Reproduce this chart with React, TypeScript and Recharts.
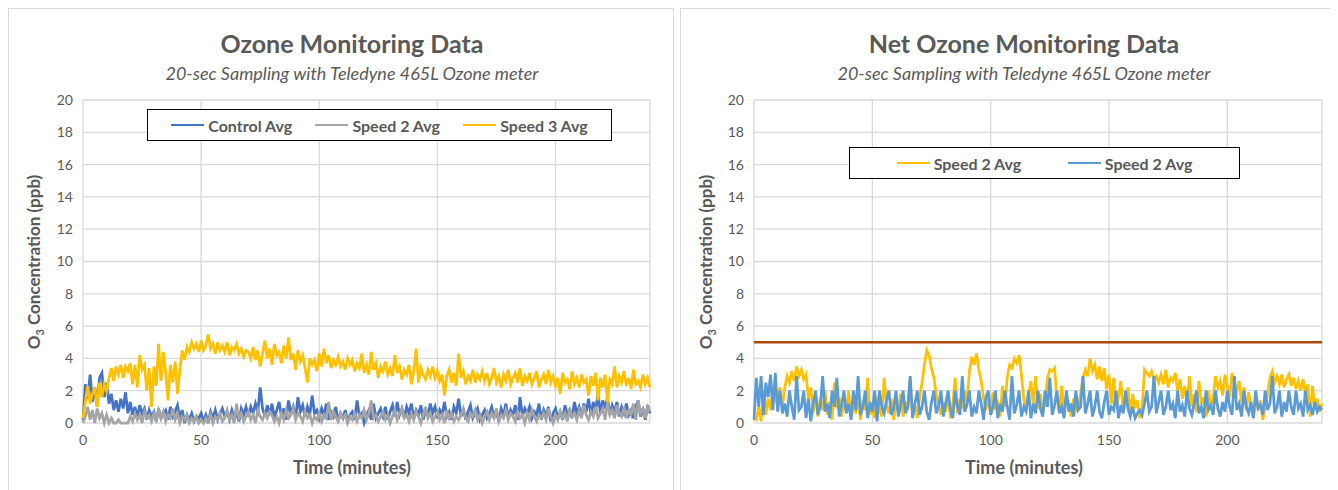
import React from 'react';
import { LineChart, Line, XAxis, YAxis, CartesianGrid, Legend, ReferenceLine } from 'recharts';

const FONT = 'Lato, "Noto Sans", sans-serif';
const TEXT = '#595959';
const GRID = '#d9d9d9';

const timeTicks = [0, 50, 100, 150, 200];
const concTicks = [0, 2, 4, 6, 8, 10, 12, 14, 16, 18, 20];
const LIMIT = 5;

// one reading per minute
const controlAvg = [
  0.2, 2.4, 1.5, 3.0, 1.3, 2.2, 1.0, 2.8, 3.1, 1.6,
  2.5, 1.2, 1.8, 0.8, 1.4, 0.7, 1.5, 0.9, 1.9, 0.6,
  1.3, 0.5, 1.0, 0.3, 1.1, 0.6, 0.9, 0.2, 0.8, 0.4,
  0.7, 0.1, 0.9, 0.3, 0.6, 0.8, 0.2, 1.0, 0.4, 0.7,
  1.1, 0.3, 0.8, 0.0, 0.5, 0.2, 0.6, 0.1, 0.4, 0.3,
  0.6, 0.1, 0.5, 0.0, 0.7, 0.3, 0.8, 0.2, 0.6, 0.9,
  0.4, 0.7, 0.2, 0.8, 0.3, 0.6, 0.1, 0.9, 0.5, 1.0,
  0.4, 1.0, 0.6, 1.2, 0.7, 2.2, 0.9, 0.4, 1.1, 0.5,
  1.2, 0.3, 0.8, 1.3, 0.4, 0.9, 0.2, 1.4, 0.6, 1.0,
  0.3, 1.6, 0.7, 1.1, 0.4, 1.0, 0.5, 1.7, 0.6, 0.8,
  0.3, 0.9, 0.5, 1.2, 0.2, 0.7, 0.4, 1.0, 0.1, 0.6,
  0.3, 0.8, 0.1, 0.5, 0.7, 0.2, 1.4, 0.4, 0.6, 0.0,
  0.5, 0.8, 0.2, 1.2, 0.3, 0.6, 0.9, 0.4, 1.0, 0.2,
  0.7, 1.1, 0.4, 1.3, 0.5, 0.9, 0.3, 1.0, 0.6, 1.2,
  0.3, 0.8, 0.5, 1.1, 0.2, 0.9, 0.4, 1.2, 0.6, 1.0,
  0.3, 0.8, 0.5, 1.3, 0.4, 0.7, 0.2, 1.0, 0.6, 1.5,
  0.4, 0.9, 0.2, 0.7, 1.1, 0.3, 0.6, 0.9, 0.2, 0.5,
  0.8, 0.3, 0.6, 1.0, 0.4, 0.7, 0.1, 0.9, 0.5, 1.2,
  0.3, 0.8, 0.5, 1.1, 0.2, 1.6, 0.4, 0.9, 0.6, 1.0,
  0.3, 0.7, 0.5, 1.2, 0.2, 0.8, 0.4, 1.0, 0.1, 0.6,
  0.9, 0.3, 0.7, 0.2, 1.1, 0.5, 0.8, 0.3, 1.3, 0.6,
  1.0, 0.4, 1.2, 0.7, 1.5, 0.5, 1.3, 0.8, 1.8, 0.6,
  1.4, 0.9, 1.6, 0.5, 1.1, 0.7, 1.3, 0.4, 1.0, 0.6,
  1.2, 0.5, 0.8, 0.3, 1.0, 1.4, 0.4, 0.9, 0.2, 1.1,
  0.6,
];

const speed2Avg = [
  0.0, 0.4, 1.0, 0.2, 0.8, 0.0, 0.9, 0.3, 0.6, 0.0,
  0.5, 0.0, 0.3, 0.0, 0.0, 0.2, 0.0, 0.0, 0.0, 0.0,
  0.4, 0.1, 0.6, 0.2, 0.5, 0.0, 0.7, 0.3, 0.5, 0.1,
  0.6, 0.2, 0.8, 0.3, 0.7, 0.1, 0.5, 0.3, 0.9, 0.2,
  0.6, 0.0, 0.4, 0.2, 0.5, 0.0, 0.3, 0.1, 0.4, 0.0,
  0.2, 0.0, 0.3, 0.1, 0.5, 0.0, 0.4, 0.2, 0.6, 0.1,
  0.3, 0.8, 0.2, 0.5, 0.0, 1.2, 0.3, 0.6, 0.1, 0.4,
  0.7, 0.2, 0.5, 0.0, 0.8, 0.4, 0.2, 0.6, 0.3, 0.7,
  0.5, 0.1, 0.4, 0.0, 0.6, 0.2, 0.8, 0.3, 0.5, 0.9,
  0.2, 0.6, 0.4, 0.1, 0.7, 0.3, 0.5, 0.0, 0.4, 0.2,
  0.6, 0.1, 0.5, 0.3, 1.3, 0.2, 0.7, 0.4, 0.1, 0.6,
  0.3, 0.5, 0.0, 0.4, 0.2, 0.6, 0.1, 0.5, 0.3, 0.8,
  0.2, 0.6, 1.4, 0.3, 0.5, 0.1, 0.4, 0.7, 0.2, 0.5,
  0.0, 0.4, 0.8, 0.2, 0.6, 0.9, 0.3, 0.5, 0.1, 0.6,
  0.2, 0.7, 0.4, 0.0, 0.5, 1.0, 0.3, 0.6, 0.1, 0.4,
  0.7, 0.2, 0.5, 0.0, 0.8, 0.3, 0.6, 0.1, 0.4, 0.2,
  0.5, 0.9, 0.3, 0.1, 0.6, 0.4, 0.8, 0.2, 0.5, 0.0,
  0.4, 0.7, 0.2, 0.6, 0.3, 0.9, 0.1, 0.5, 0.3, 0.8,
  0.2, 0.6, 0.4, 0.1, 0.7, 0.3, 0.5, 0.0, 0.6, 0.2,
  0.8, 0.4, 0.1, 0.5, 0.3, 0.6, 0.2, 0.9, 0.4, 0.0,
  0.5, 0.2, 0.7, 0.3, 0.6, 0.1, 0.9, 0.4, 0.6, 0.2,
  0.8, 0.3, 1.1, 0.5, 0.2, 0.7, 0.4, 1.0, 0.3, 0.6,
  0.9, 0.2, 1.3, 0.5, 0.8, 0.3, 1.1, 0.6, 0.4, 1.0,
  0.3, 0.8, 0.5, 1.2, 0.2, 1.4, 0.6, 0.9, 0.3, 1.0,
  0.7,
];

const speed3Avg = [
  0.3, 1.3, 2.3, 1.2, 1.8, 2.2, 1.0, 2.5, 1.6, 2.4,
  2.0, 2.8, 3.4, 2.6, 3.5, 3.0, 3.6, 2.8, 3.5, 3.2,
  3.7, 2.4, 3.6, 2.2, 4.2, 3.3, 3.6, 2.0, 3.4, 1.0,
  3.5, 2.3, 4.9, 2.6, 4.4, 3.1, 1.4, 3.6, 2.5, 3.8,
  1.8, 3.3, 4.5, 3.9, 4.7, 4.4, 5.0, 4.6, 4.9, 4.4,
  5.1, 4.5, 4.8, 5.5, 4.6, 4.9, 4.3, 5.0, 4.5, 4.8,
  4.4, 5.0, 4.2, 4.7, 4.5, 4.9, 4.3, 4.6, 4.1, 4.5,
  4.4, 4.0, 4.7, 3.9, 4.5, 3.5, 4.3, 5.1, 4.0, 4.6,
  3.6, 4.9, 4.2, 4.4, 3.7, 4.8, 4.0, 5.3, 3.9, 4.3,
  3.3, 4.5, 3.8, 4.2, 3.4, 2.5, 4.0, 3.6, 3.9, 3.2,
  4.3, 3.5, 4.6, 3.7, 4.2, 3.4, 3.9, 3.6, 4.1, 3.5,
  3.8, 3.3, 4.0, 3.6, 3.9, 3.2, 3.7, 3.4, 4.3, 3.1,
  3.6, 3.0, 4.4, 3.3, 3.7, 2.8, 3.5, 3.2, 3.8, 3.0,
  3.4, 2.9, 4.2, 3.1, 3.5, 2.7, 3.3, 3.0, 3.6, 2.4,
  3.2, 4.6, 2.5, 3.4, 3.0, 2.7, 3.3, 2.9, 3.5, 2.8,
  3.2, 2.6, 3.0, 1.7, 2.9, 3.3, 2.5, 3.1, 2.3, 4.3,
  2.8, 3.2, 2.4, 2.9, 2.6, 3.3, 2.5, 3.0, 2.7, 3.2,
  2.6, 3.1, 2.4, 2.8, 3.4, 2.5, 2.9, 2.2, 3.0, 2.6,
  3.3, 2.4, 2.8, 3.1, 2.5, 3.4, 2.3, 2.9, 2.6, 3.1,
  2.4, 2.8, 3.2, 2.2, 2.7, 3.0, 2.4, 3.3, 2.5, 2.9,
  2.3, 2.8, 1.8, 3.1, 2.5, 2.7, 2.1, 3.2, 2.4, 2.8,
  2.2, 3.0, 2.5, 2.7, 1.7, 2.9, 2.3, 3.1, 1.4, 2.8,
  2.2, 3.0, 1.3, 2.7, 2.4, 3.5, 2.2, 2.9, 2.5, 3.2,
  2.3, 2.8, 2.1, 3.3, 2.4, 2.6, 2.2, 3.0, 2.4, 2.8,
  2.2,
];

// net chart: both series are labelled "Speed 2 Avg" in the source
const netYellow = [
  0.3, 0.2, 1.0, 0.1, 2.0, 0.5, 1.5, 0.8, 2.2, 1.3,
  1.8, 2.2, 1.0, 2.2, 2.9, 2.5, 3.2, 2.6, 3.5, 2.9,
  3.3, 2.7, 3.0, 1.5, 2.2, 0.6, 1.8, 0.4, 1.5, 0.8,
  2.0, 0.5, 1.3, 0.2, 2.5, 0.9, 1.6, 0.4, 1.2, 0.7,
  2.0, 0.3, 1.1, 0.6, 1.8, 0.2, 1.4, 0.8, 2.8, 0.5,
  1.0, 0.3, 1.6, 0.9, 0.4, 2.8, 1.1, 0.6, 1.5, 0.2,
  1.2, 0.7, 1.8, 0.4, 1.3, 0.8, 2.8, 0.5, 1.1, 0.3,
  1.6, 2.5, 3.6, 4.5, 4.2, 3.4, 2.8, 1.8, 1.1, 0.5,
  1.3, 0.7, 1.8, 0.3, 1.2, 2.8, 0.6, 1.5, 0.9, 2.0,
  1.3, 3.2, 4.1, 3.6, 4.3, 3.3, 2.6, 1.5, 0.8, 1.6,
  0.5, 1.9, 0.8, 1.2, 0.4, 2.3, 1.0, 2.8, 3.6, 3.4,
  4.0, 3.7, 4.2, 3.0, 1.5, 0.8, 1.7, 2.6, 1.1, 2.9,
  0.9, 1.8, 0.6, 1.3, 2.8, 3.3, 3.2, 3.4, 1.5, 0.8,
  2.3, 0.6, 1.7, 1.2, 0.4, 1.5, 0.8, 1.1, 1.8, 2.8,
  3.3, 2.9, 4.0, 3.2, 3.6, 2.7, 3.5, 2.6, 3.4, 2.1,
  3.0, 1.2, 2.8, 0.9, 1.6, 2.6, 0.7, 1.3, 2.2, 0.5,
  1.8, 0.9, 1.4, 0.3, 1.0, 3.3, 3.1, 2.9, 3.2, 2.7,
  2.9, 2.5, 3.0, 2.4, 3.3, 2.2, 2.8, 2.6, 3.1, 2.0,
  2.7, 1.5, 2.3, 1.2, 2.9, 1.0, 1.8, 0.7, 2.6, 1.2,
  1.6, 0.4, 2.0, 1.1, 1.5, 2.9, 2.2, 2.6, 1.7, 3.0,
  2.3, 1.6, 3.1, 2.4, 2.0, 2.6, 1.3, 2.2, 0.8, 1.9,
  1.1, 0.3, 1.6, 0.8, 1.4, 0.2, 1.0, 1.8, 2.8, 3.2,
  2.5, 2.9, 2.4, 3.0, 2.2, 2.7, 3.0, 2.3, 2.8, 2.1,
  2.6, 2.0, 2.7, 1.8, 2.4, 0.4, 2.3, 0.9, 1.5, 0.7,
  1.2,
];

const netBlue = [
  0.2, 2.8, 1.0, 2.9, 0.5, 2.5, 1.6, 3.0, 0.8, 3.1,
  0.7, 2.0, 0.6, 1.2, 0.4, 2.0, 1.0, 0.2, 2.9, 0.8,
  1.0, 2.0, 0.3, 1.5, 0.1, 1.2, 2.0, 0.5, 1.0, 2.9,
  0.7, 1.2, 0.3, 2.0, 1.0, 2.8, 0.4, 1.1, 2.0, 0.6,
  1.2, 0.2, 2.0, 0.8, 2.9, 0.5, 1.0, 2.0, 0.3, 1.3,
  0.7, 2.0, 0.1, 2.0, 1.0, 0.6, 1.4, 2.0, 0.5, 0.9,
  2.0, 0.4, 1.1, 2.0, 0.6, 1.0, 2.9, 0.3, 1.2, 2.0,
  0.5, 1.0, 2.0, 0.7, 0.2, 1.3, 2.0, 0.6, 1.0, 2.0,
  0.4, 1.2, 2.0, 0.8, 0.3, 2.0, 1.0, 0.5, 2.9, 0.7,
  1.1, 2.0, 0.4, 1.0, 0.6, 2.0, 1.2, 0.2, 1.6, 2.0,
  0.5, 1.0, 2.0, 0.3, 1.2, 0.7, 2.0, 1.0, 0.2, 2.9,
  0.6, 1.1, 2.0, 0.4, 1.0, 0.7, 2.0, 0.3, 1.2, 0.6,
  2.0, 0.9, 0.4, 2.0, 1.0, 2.8, 0.5, 1.1, 2.0, 0.6,
  1.0, 0.3, 2.0, 0.7, 1.2, 0.4, 2.0, 0.8, 1.0, 2.9,
  0.6, 1.2, 2.0, 0.4, 1.0, 2.0, 0.7, 0.3, 1.3, 2.0,
  0.5, 1.0, 0.8, 2.0, 0.3, 1.1, 0.6, 2.0, 0.9, 0.4,
  1.0, 0.3, 0.6, 0.8, 0.5, 1.2, 2.0, 0.7, 1.0, 2.9,
  0.6, 1.3, 2.0, 0.5, 1.0, 2.0, 0.8, 1.2, 0.3, 2.0,
  0.7, 1.1, 0.4, 2.0, 0.9, 0.5, 1.2, 2.0, 0.6, 1.0,
  0.3, 2.0, 0.8, 1.1, 0.5, 2.0, 0.9, 0.4, 1.3, 0.7,
  2.0, 1.0, 0.5, 2.9, 0.8, 1.2, 0.4, 2.0, 1.0, 0.6,
  1.3, 0.3, 2.0, 0.9, 1.1, 0.5, 2.0, 0.8, 1.2, 2.9,
  0.6, 1.0, 2.0, 0.4, 1.3, 0.7, 2.0, 1.0, 0.5, 2.0,
  0.9, 1.2, 0.4, 2.0, 0.8, 1.1, 0.5, 1.3, 0.7, 1.0,
  0.8,
];

const leftData = controlAvg.map((v, i) => ({
  t: i,
  control: v,
  speed2: speed2Avg[i],
  speed3: speed3Avg[i],
}));

const rightData = netYellow.map((v, i) => ({ t: i, a: v, b: netBlue[i] }));

const BoxLegend = ({ payload }: any) => (
  <div
    style={{
      display: 'flex',
      justifyContent: 'space-evenly',
      alignItems: 'center',
      height: 32,
      boxSizing: 'border-box',
      border: '1.5px solid #000',
      background: '#fff',
      fontFamily: FONT,
      fontSize: 16,
      fontWeight: 700,
      color: TEXT,
    }}
  >
    {(payload || []).map((e: any, i: number) => (
      <div key={i} style={{ display: 'flex', alignItems: 'center' }}>
        <span style={{ display: 'inline-block', width: 33, borderTop: `2.5px solid ${e.color}`, marginRight: 4 }} />
        {e.value}
      </div>
    ))}
  </div>
);

interface PanelProps {
  title: string;
  width: number;
  plotLeft: number;
  legendBox: { left: number; top: number; width: number };
  children: React.ReactNode;
  data: any[];
}

const Panel = ({ title, width, plotLeft, legendBox, children, data }: PanelProps) => {
  const tick = { fill: TEXT, fontSize: 14, fontFamily: FONT };
  return (
    <div style={{ position: 'relative', width, height: 490 }}>
      <div style={{ position: 'absolute', inset: 0, border: `1px solid ${GRID}` }} />
      <LineChart width={width} height={482} data={data} margin={{ top: 92, right: width - 642, left: 0, bottom: 0 }}>
        <CartesianGrid stroke={GRID} strokeWidth={1.3} />
        <XAxis
          dataKey="t"
          type="number"
          domain={[0, 240]}
          ticks={timeTicks}
          axisLine={false}
          tickLine={false}
          tick={tick}
          tickMargin={6}
          height={67}
        />
        <YAxis
          domain={[0, 20]}
          ticks={concTicks}
          axisLine={false}
          tickLine={false}
          tick={tick}
          tickMargin={4}
          width={plotLeft}
        />
        <Legend
          verticalAlign="middle"
          align="center"
          content={<BoxLegend />}
          wrapperStyle={{ left: legendBox.left, top: legendBox.top, width: legendBox.width }}
        />
        {children}
      </LineChart>
      <div style={{ position: 'absolute', left: 0, top: 23, width: 688, textAlign: 'center', fontFamily: FONT, fontWeight: 700, fontSize: 25, lineHeight: 1, color: TEXT }}>
        {title}
      </div>
      <div style={{ position: 'absolute', left: 0, top: 56, width: 688, textAlign: 'center', fontFamily: FONT, fontStyle: 'italic', fontSize: 18, lineHeight: 1, color: TEXT }}>
        20-sec Sampling with Teledyne 465L Ozone meter
      </div>
      <div style={{ position: 'absolute', left: 0, top: 450, width: 688, textAlign: 'center', fontFamily: FONT, fontWeight: 700, fontSize: 18, lineHeight: 1, color: TEXT }}>
        Time (minutes)
      </div>
      <div
        style={{
          position: 'absolute',
          left: 27,
          top: 254,
          transform: 'translate(-50%, -50%) rotate(-90deg)',
          whiteSpace: 'nowrap',
          fontFamily: FONT,
          fontWeight: 700,
          fontSize: 17,
          lineHeight: 1,
          color: TEXT,
        }}
      >
        O<sub style={{ fontSize: 11 }}>3</sub> Concentration (ppb)
      </div>
    </div>
  );
};

export default function App() {
  return (
    <div style={{ position: 'relative', width: 1322, height: 482, display: 'flex', gap: 6 }}>
      <Panel title="Ozone Monitoring Data" width={666} plotLeft={75} legendBox={{ left: 139, top: 101, width: 465 }} data={leftData}>
        <Line type="linear" dataKey="control" name="Control Avg" stroke="#4472C4" strokeWidth={2.75} dot={false} isAnimationActive={false} />
        <Line type="linear" dataKey="speed2" name="Speed 2 Avg" stroke="#A5A5A5" strokeWidth={2.75} dot={false} isAnimationActive={false} />
        <Line type="linear" dataKey="speed3" name="Speed 3 Avg" stroke="#FFC000" strokeWidth={2.75} dot={false} isAnimationActive={false} />
      </Panel>
      <Panel title="Net Ozone Monitoring Data" width={652} plotLeft={74} legendBox={{ left: 169, top: 139, width: 391 }} data={rightData}>
        <ReferenceLine y={LIMIT} stroke="#A9480F" strokeWidth={2.5} />
        <Line type="linear" dataKey="a" name="Speed 2 Avg" stroke="#FFC000" strokeWidth={2.75} dot={false} isAnimationActive={false} />
        <Line type="linear" dataKey="b" name="Speed 2 Avg" stroke="#5B9BD5" strokeWidth={2.75} dot={false} isAnimationActive={false} />
      </Panel>
    </div>
  );
}
